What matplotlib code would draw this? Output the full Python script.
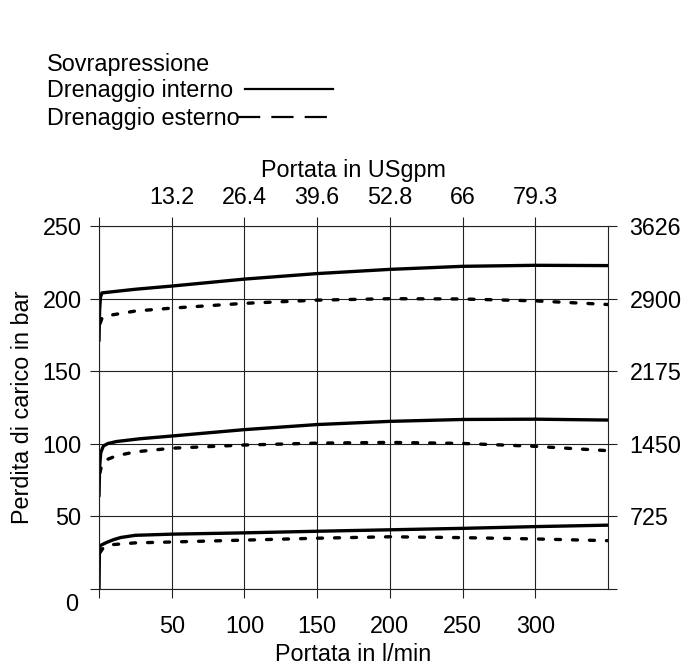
import matplotlib
matplotlib.use("Agg")
import matplotlib.pyplot as plt
from matplotlib.lines import Line2D

plt.rcParams["font.family"] = ["Liberation Sans", "DejaVu Sans"]
plt.rcParams["font.size"] = 16.8

# Portata (l/min) e perdita di carico (bar) per le tre tarature
x_hi_int = [0, 0.4, 1.0, 2.0, 25, 50, 100, 150, 200, 250, 300, 350]
y_hi_int = [171, 192, 201, 204, 206.5, 208.7, 213.5, 217.3, 220.2, 222.3, 223, 222.8]
x_hi_est = [0.8, 2, 4, 25, 50, 100, 150, 200, 250, 300, 350]
y_hi_est = [183, 186.5, 188, 191.5, 193.5, 196.8, 199, 200, 199.8, 198.5, 196]

x_mid_int = [0, 0.4, 1.2, 3, 6, 12, 28, 50, 100, 150, 200, 250, 300, 350]
y_mid_int = [64, 84, 94, 98.5, 100.2, 101.6, 103.5, 105.4, 109.8, 113.3, 115.5, 116.8, 117, 116.4]
x_mid_est = [0.6, 2, 5, 12, 25, 50, 100, 150, 200, 250, 300, 350]
y_mid_est = [80, 86, 89, 91.8, 94.5, 97, 99.2, 100.5, 101, 100.3, 98.3, 95.3]

x_lo_int = [0, 0.3, 1, 5, 10, 15, 25, 50, 100, 150, 200, 250, 300, 350]
y_lo_int = [0, 28, 30, 32, 34, 35.5, 37, 37.8, 38.7, 39.8, 40.8, 41.8, 43, 44]
x_lo_est = [0.6, 3, 8, 25, 50, 100, 150, 200, 250, 300, 350]
y_lo_est = [25, 28.5, 30.5, 31.8, 32.4, 33.7, 35, 36, 35.4, 34.5, 33.3]

lpm_ticks = [0, 50, 100, 150, 200, 250, 300]
lpm_labels = ["", "50", "100", "150", "200", "250", "300"]
gpm_labels = ["", "13.2", "26.4", "39.6", "52.8", "66", "79.3"]
bar_ticks = [0, 50, 100, 150, 200, 250]
bar_labels = ["", "50", "100", "150", "200", "250"]
psi_labels = ["", "725", "1450", "2175", "2900", "3626"]

fig = plt.figure(figsize=(6.89, 6.67), dpi=100)
ax = fig.add_axes([0.1437, 0.1169, 0.7387, 0.5441])

solid = dict(color="black", lw=2.4, solid_capstyle="round", solid_joinstyle="round")
dashed = dict(color="black", lw=2.4, linestyle=(0, (1.5, 3.6)), dash_capstyle="round")

ax.plot(x_hi_int, y_hi_int, **solid)
ax.plot(x_hi_est, y_hi_est, **dashed)
ax.plot(x_mid_int, y_mid_int, **solid)
ax.plot(x_mid_est, y_mid_est, **dashed)
ax.plot(x_lo_int, y_lo_int, **solid)
ax.plot(x_lo_est, y_lo_est, **dashed)

ax.set_xlim(0, 350)
ax.set_ylim(0, 250)
ax.set_xticks(lpm_ticks, lpm_labels)
ax.set_yticks(bar_ticks, bar_labels)
ax.grid(True, color="#222222", lw=0.8)
ax.set_axisbelow(True)
for s in ax.spines.values():
    s.set_color("#222222")
    s.set_linewidth(0.8)

ax.tick_params(axis="x", direction="out", length=6.5, width=0.8, color="#222222", pad=12.5)
ax.tick_params(axis="y", direction="out", length=6.5, width=0.8, color="#222222", pad=6)

top = ax.secondary_xaxis("top")
top.set_xticks(lpm_ticks, gpm_labels)
top.tick_params(direction="out", length=6.5, width=0.8, color="#222222", pad=6)
top.spines["top"].set_visible(False)
top.set_xlabel("Portata in USgpm", labelpad=6)

right = ax.secondary_yaxis("right")
right.set_yticks(bar_ticks, psi_labels)
right.tick_params(direction="out", length=6.5, width=0.8, color="#222222", pad=9)
right.spines["right"].set_visible(False)

ax.set_xlabel("Portata in l/min", labelpad=3)
ax.set_ylabel("Perdita di carico in bar", labelpad=6)

ax.annotate("0", xy=(0, 0), xycoords="axes fraction", xytext=(-15, -11.5),
            textcoords="offset points", ha="right", va="center")

# legenda manuale
fig.text(47 / 689, 1 - 64 / 667, "Sovrapressione", ha="left", va="center")
fig.text(47 / 689, 1 - 91 / 667, "Drenaggio interno", ha="left", va="center")
fig.text(47 / 689, 1 - 118 / 667, "Drenaggio esterno", ha="left", va="center")
fig.add_artist(Line2D([245 / 689, 333 / 689], [1 - 89 / 667, 1 - 89 / 667],
                      color="black", lw=1.6))
fig.add_artist(Line2D([238 / 689, 333 / 689], [1 - 117 / 667, 1 - 117 / 667],
                      color="black", lw=1.6, linestyle=(0, (10, 5))))

fig.savefig("out.png", dpi=100)
